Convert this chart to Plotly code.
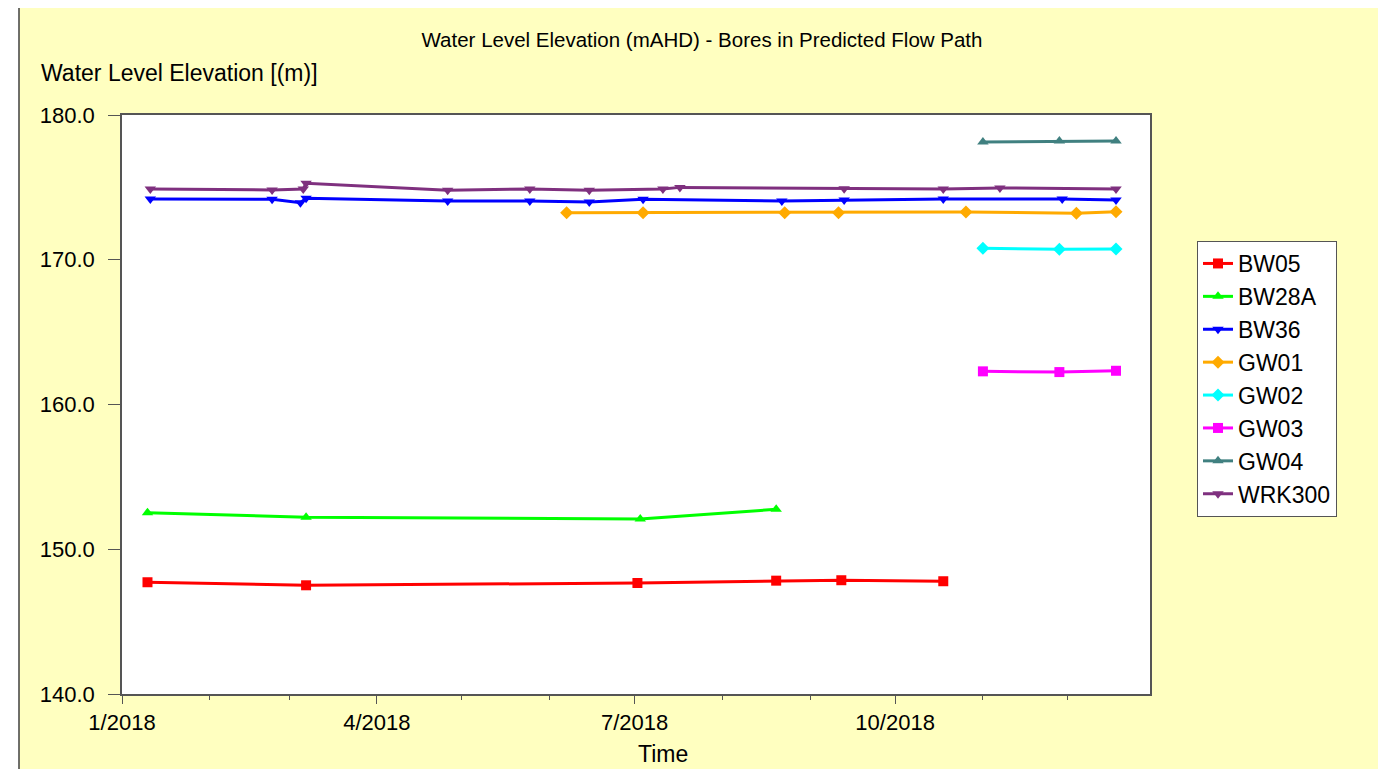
import plotly.graph_objs as go

# bore readings (date, water level mAHD)
bw05_dates = ["2018-01-10", "2018-03-07", "2018-07-02", "2018-08-20", "2018-09-12", "2018-10-18"]
bw05_levels = [147.72, 147.51, 147.67, 147.83, 147.86, 147.79]

bw28a_dates = ["2018-01-10", "2018-03-07", "2018-07-03", "2018-08-20"]
bw28a_levels = [152.53, 152.21, 152.09, 152.76]

bw36_dates = ["2018-01-11", "2018-02-23", "2018-03-05", "2018-03-07", "2018-04-26", "2018-05-25",
              "2018-06-15", "2018-07-04", "2018-08-22", "2018-09-13", "2018-10-18", "2018-11-29",
              "2018-12-18"]
bw36_levels = [174.20, 174.18, 173.94, 174.25, 174.06, 174.06, 173.99, 174.18, 174.06, 174.13,
               174.20, 174.20, 174.13]

gw01_dates = ["2018-06-07", "2018-07-04", "2018-08-23", "2018-09-11", "2018-10-26", "2018-12-04", "2018-12-18"]
gw01_levels = [173.25, 173.25, 173.25, 173.25, 173.30, 173.21, 173.32]

gw02_dates = ["2018-11-01", "2018-11-28", "2018-12-18"]
gw02_levels = [170.79, 170.72, 170.74]

gw03_dates = ["2018-11-01", "2018-11-28", "2018-12-18"]
gw03_levels = [162.29, 162.24, 162.33]

gw04_dates = ["2018-11-01", "2018-11-28", "2018-12-18"]
gw04_levels = [178.13, 178.20, 178.20]

wrk300_dates = ["2018-01-11", "2018-02-23", "2018-03-06", "2018-03-07", "2018-04-26", "2018-05-25",
                "2018-06-15", "2018-07-11", "2018-07-17", "2018-09-13", "2018-10-18", "2018-11-07",
                "2018-12-18"]
wrk300_levels = [174.89, 174.82, 174.89, 175.28, 174.80, 174.89, 174.80, 174.89, 175.00, 174.91,
                 174.89, 174.96, 174.89]

y_ticks = [140, 150, 160, 170, 180]
y_tick_labels = ["140.0", "150.0", "160.0", "170.0", "180.0"]
x_ticks = ["2018-01-01", "2018-04-01", "2018-07-01", "2018-10-01"]
x_tick_labels = ["1/2018", "4/2018", "7/2018", "10/2018"]

series = [
    ("BW05", bw05_dates, bw05_levels, "#FF0000", "square"),
    ("BW28A", bw28a_dates, bw28a_levels, "#00FF00", "triangle-up"),
    ("BW36", bw36_dates, bw36_levels, "#0000FF", "triangle-down"),
    ("GW01", gw01_dates, gw01_levels, "#FFAA00", "diamond"),
    ("GW02", gw02_dates, gw02_levels, "#00FFFF", "diamond"),
    ("GW03", gw03_dates, gw03_levels, "#FF00FF", "square"),
    ("GW04", gw04_dates, gw04_levels, "#408080", "triangle-up"),
    ("WRK300", wrk300_dates, wrk300_levels, "#7F307F", "triangle-down"),
]

fig = go.Figure()
for name, dates, levels, colour, symbol in series:
    fig.add_trace(go.Scatter(
        x=dates, y=levels, name=name, mode="lines+markers",
        line={"color": colour, "width": 3},
        marker={"color": colour, "symbol": symbol, "size": 10},
    ))

font_family = "Arial, Liberation Sans, sans-serif"
axis_col = "#555555"

# page pixels: plot area 122..1150 wide, 115..694 tall; page body adds 8px offset
OFF = 8
W, H = 1386, 769
L = 122 - OFF
T = 115 - OFF
R = W - (1150 - OFF)
B = H - (694 - OFF)
pw, ph = W - L - R, H - T - B

def px(x):
    return (x - OFF - L) / pw

def py(y):
    return (H - B - (y - OFF)) / ph

fig.update_layout(
    width=W, height=H,
    margin={"l": L, "r": R, "t": T, "b": B},
    paper_bgcolor="white",
    plot_bgcolor="white",
    font={"family": font_family, "color": "black", "size": 22},
    title={"text": "Water Level Elevation (mAHD) - Bores in Predicted Flow Path",
           "x": (702 - OFF) / W, "xanchor": "center", "y": 1 - (40 - OFF) / H, "yanchor": "middle",
           "font": {"size": 20.5}},
    showlegend=True,
    legend={"x": px(1197), "y": py(241), "xanchor": "left", "yanchor": "top",
            "bgcolor": "white", "bordercolor": "#555555", "borderwidth": 1,
            "font": {"size": 23}, "itemwidth": 30},
    xaxis={"range": ["2018-01-01", "2018-12-30"], "tickvals": x_ticks, "ticktext": x_tick_labels,
           "ticks": "outside", "ticklen": 8, "tickcolor": axis_col, "showgrid": False,
           "showline": True, "linecolor": axis_col, "linewidth": 1.5, "mirror": True,
           "zeroline": False, "tickfont": {"size": 22},
           "minor": {"dtick": "M1", "tick0": "2018-01-01", "ticks": "outside", "ticklen": 4,
                     "tickcolor": axis_col, "showgrid": False}},
    yaxis={"range": [140, 180], "tickvals": y_ticks, "ticktext": y_tick_labels,
           "ticks": "outside", "ticklen": 12, "tickcolor": axis_col, "showgrid": False,
           "showline": True, "linecolor": axis_col, "linewidth": 1.5, "mirror": True,
           "zeroline": False, "tickfont": {"size": 22}, "ticklabelstandoff": 9},
    shapes=[
        {"type": "rect", "xref": "paper", "yref": "paper",
         "x0": px(19), "x1": px(1384), "y0": py(820), "y1": py(7),
         "fillcolor": "#FFFFC0", "line": {"color": "#404040", "width": 1.5},
         "layer": "below"},
        {"type": "rect", "xref": "paper", "yref": "paper",
         "x0": 0, "x1": 1, "y0": 0, "y1": 1,
         "fillcolor": "white", "line": {"width": 0}, "layer": "below"},
    ],
    annotations=[
        {"text": "Water Level Elevation [(m)]", "xref": "paper", "yref": "paper",
         "x": px(39), "y": py(73), "xanchor": "left", "yanchor": "middle",
         "showarrow": False, "font": {"size": 23}},
        {"text": "Time", "xref": "paper", "yref": "paper",
         "x": px(663), "y": py(754), "xanchor": "center", "yanchor": "middle",
         "showarrow": False, "font": {"size": 23}},
    ],
)

fig.write_html("out.html")
